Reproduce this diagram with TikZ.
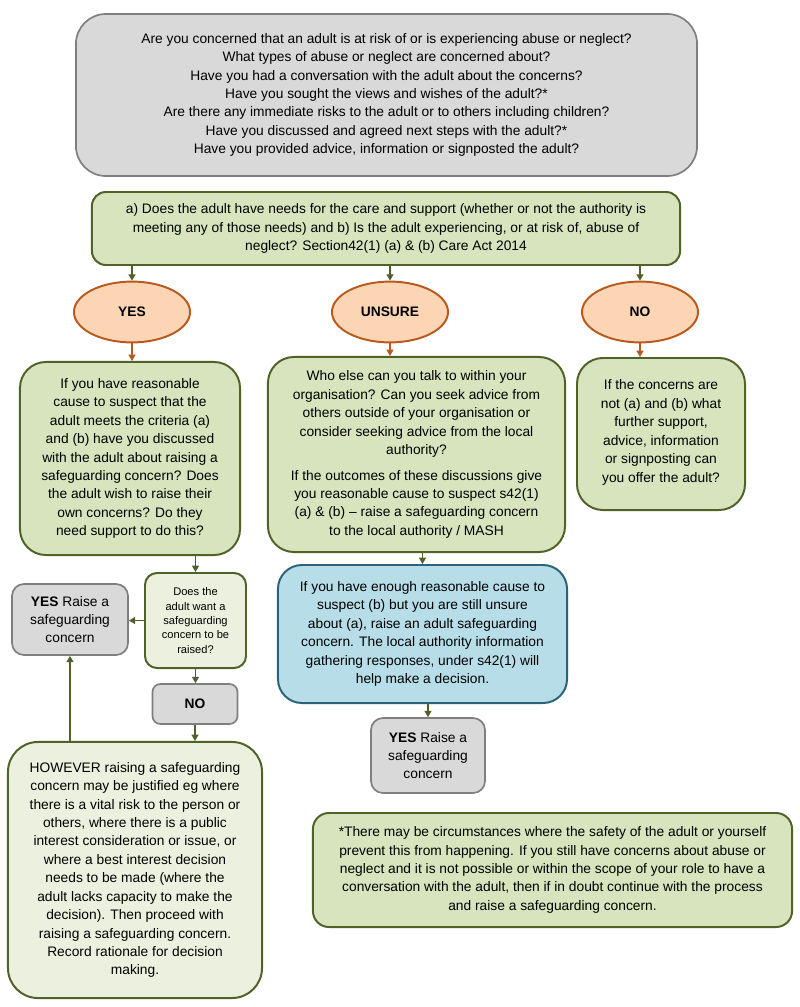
\documentclass[tikz,border=0pt]{standalone}
\usepackage{fontspec}
\setmainfont{Liberation Sans}
\usepackage{tikz}
\usetikzlibrary{positioning, arrows.meta, calc, shapes.geometric}

\definecolor{boxgreen}{HTML}{D7E4BD}
\definecolor{palegreen}{HTML}{EBF1DE}
\definecolor{olive}{HTML}{4F6228}
\definecolor{boxgrey}{HTML}{D9D9D9}
\definecolor{edgegrey}{HTML}{7F7F7F}
\definecolor{boxblue}{HTML}{B7DEE8}
\definecolor{edgeblue}{HTML}{2B6478}
\definecolor{peach}{HTML}{FCD5B5}
\definecolor{rust}{HTML}{B85A1E}

\begin{document}
\begin{tikzpicture}[
    x=0.025cm, y=-0.025cm,
    % Box styles
    every node/.append style={font=\fontsize{9.8}{13.1}\selectfont},
    askbox/.style={
        rectangle,
        rounded corners=0.75cm,
        draw=edgegrey,
        line width=1.2pt,
        fill=boxgrey,
        align=center,
        inner sep=0pt
    },
    greenbox/.style={
        rectangle,
        rounded corners=0.65cm,
        draw=olive,
        line width=1.4pt,
        fill=boxgreen,
        align=center,
        inner sep=0pt
    },
    palebox/.style={
        greenbox,
        fill=palegreen
    },
    greybox/.style={
        rectangle,
        rounded corners=0.3cm,
        draw=edgegrey,
        line width=1.2pt,
        fill=boxgrey,
        align=center,
        inner sep=0pt
    },
    bluebox/.style={
        greenbox,
        draw=edgeblue,
        fill=boxblue
    },
    answer/.style={
        ellipse,
        draw=rust,
        line width=1.4pt,
        fill=peach,
        minimum width=2.9cm,
        minimum height=1.52cm,
        inner sep=0pt,
        font=\fontsize{9.8}{13.1}\selectfont\bfseries
    },
    arrow/.style={
        -{Triangle[width=5pt,length=4.5pt]},
        line width=0.8pt,
        olive
    },
    arrowor/.style={
        arrow,
        rust
    }
]
\useasboundingbox (0,0) rectangle (800,1007);

% === Top: questions ===
\node[askbox, minimum width=15.525cm, minimum height=4.05cm] (questions) at (386.5, 95) {Are you concerned that an adult is at risk of or is experiencing abuse or neglect?\\
What types of abuse or neglect are concerned about?\\
Have you had a conversation with the adult about the concerns?\\
Have you sought the views and wishes of the adult?*\\
Are there any immediate risks to the adult or to others including children?\\
Have you discussed and agreed next steps with the adult?*\\
Have you provided advice, information or signposted the adult?};

% === Criteria ===
\node[greenbox, rounded corners=0.35cm, minimum width=14.7cm, minimum height=1.825cm] (criteria) at (386, 228.5) {a) Does the adult have needs for the care and support (whether or not the authority is\\
meeting any of those needs) and b) Is the adult experiencing, or at risk of, abuse of\\
neglect? Section42(1) (a) \& (b) Care Act 2014};

% === Answers ===
\node[answer] (yes) at (132, 312) {YES};
\node[answer] (unsure) at (390, 312) {UNSURE};
\node[answer] (no) at (640, 312) {NO};

% === Second row ===
\node[greenbox, minimum width=5.5cm, minimum height=4.825cm] (yescause) at (130, 458.5) {If you have reasonable\\ cause to suspect that the\\ adult meets the criteria (a)\\ and (b) have you discussed\\ with the adult about raising a\\ safeguarding concern? Does\\ the adult wish to raise their\\ own concerns? Do they\\ need support to do this?};
\node[greenbox, minimum width=7.425cm, minimum height=4.875cm] (talk) at (416.5, 454.5) {Who else can you talk to within your\\ organisation? Can you seek advice from\\ others outside of your organisation or\\ consider seeking advice from the local\\ authority?\\[0.18cm] If the outcomes of these discussions give\\ you reasonable cause to suspect s42(1)\\ (a) \& (b) -- raise a safeguarding concern\\ to the local authority / MASH};
\node[greenbox, minimum width=4.2cm, minimum height=3.8cm, text depth=0.15cm] (notab) at (661, 434) {If the concerns are\\ not (a) and (b) what\\ further support,\\ advice, information\\ or signposting can\\ you offer the adult?};

% === Left column ===
\node[palebox, rounded corners=0.3cm, minimum width=2.525cm, minimum height=2.375cm, font=\fontsize{7.9}{10.2}\selectfont] (wish) at (195.5, 620.5) {Does the\\ adult want a\\ safeguarding\\ concern to be\\ raised?};
\node[greybox, minimum width=2.9cm, minimum height=1.775cm] (raiseleft) at (70, 619.5) {\textbf{YES} Raise a\\ safeguarding\\ concern};
\node[greybox, rounded corners=0.2cm, minimum width=2.125cm, minimum height=1cm, font=\fontsize{9.8}{13.1}\selectfont\bfseries] (nobox) at (195, 704) {NO};
\node[palebox, rounded corners=0.75cm, minimum width=6.35cm, minimum height=6.4cm] (however) at (135, 870) {HOWEVER raising a safeguarding\\ concern may be justified eg where\\ there is a vital risk to the person or\\ others, where there is a public\\ interest consideration or issue, or\\ where a best interest decision\\ needs to be made (where the\\ adult lacks capacity to make the\\ decision). Then proceed with\\ raising a safeguarding concern.\\ Record rationale for decision\\ making.};

% === Middle column ===
\node[bluebox, rounded corners=0.6cm, minimum width=7.225cm, minimum height=3.45cm] (enough) at (422.5, 634) {If you have enough reasonable cause to\\ suspect (b) but you are still unsure\\ about (a), raise an adult safeguarding\\ concern. The local authority information\\ gathering responses, under s42(1) will\\ help make a decision.};
\node[greybox, minimum width=2.85cm, minimum height=1.875cm] (raisemid) at (428, 755.5) {\textbf{YES} Raise a\\ safeguarding\\ concern};

% === Footnote ===
\node[greenbox, rounded corners=0.4cm, minimum width=11.975cm, minimum height=2.85cm] (note) at (552.5, 870) {*There may be circumstances where the safety of the adult or yourself\\ prevent this from happening. If you still have concerns about abuse or\\ neglect and it is not possible or within the scope of your role to have a\\ conversation with the adult, then if in doubt continue with the process\\ and raise a safeguarding concern.};

% === Arrows ===
\draw[arrow] (criteria.south -| yes) -- (yes);
\draw[arrow] (criteria.south -| unsure) -- (unsure);
\draw[arrow] (criteria.south -| no) -- (no);
\draw[arrowor] (yes.south) -- (yes.south |- yescause.north);
\draw[arrowor] (unsure.south) -- (unsure.south |- talk.north);
\draw[arrowor] (no.south) -- (no.south |- notab.north);
\draw[arrow] (yescause.south -| wish.north) -- (wish.north);
\draw[arrow] (wish.west) -- (wish.west -| raiseleft.east);
\draw[arrow] (wish.south) -- (wish.south |- nobox.north);
\draw[arrow] (nobox.south) -- (nobox.south |- however.north);
\draw[arrow] (however.north -| raiseleft.south) -- (raiseleft.south);
\draw[arrow] (talk.south -| enough.north) -- (enough.north);
\draw[arrow] (enough.south -| raisemid.north) -- (raisemid.north);

\end{tikzpicture}
\end{document}
